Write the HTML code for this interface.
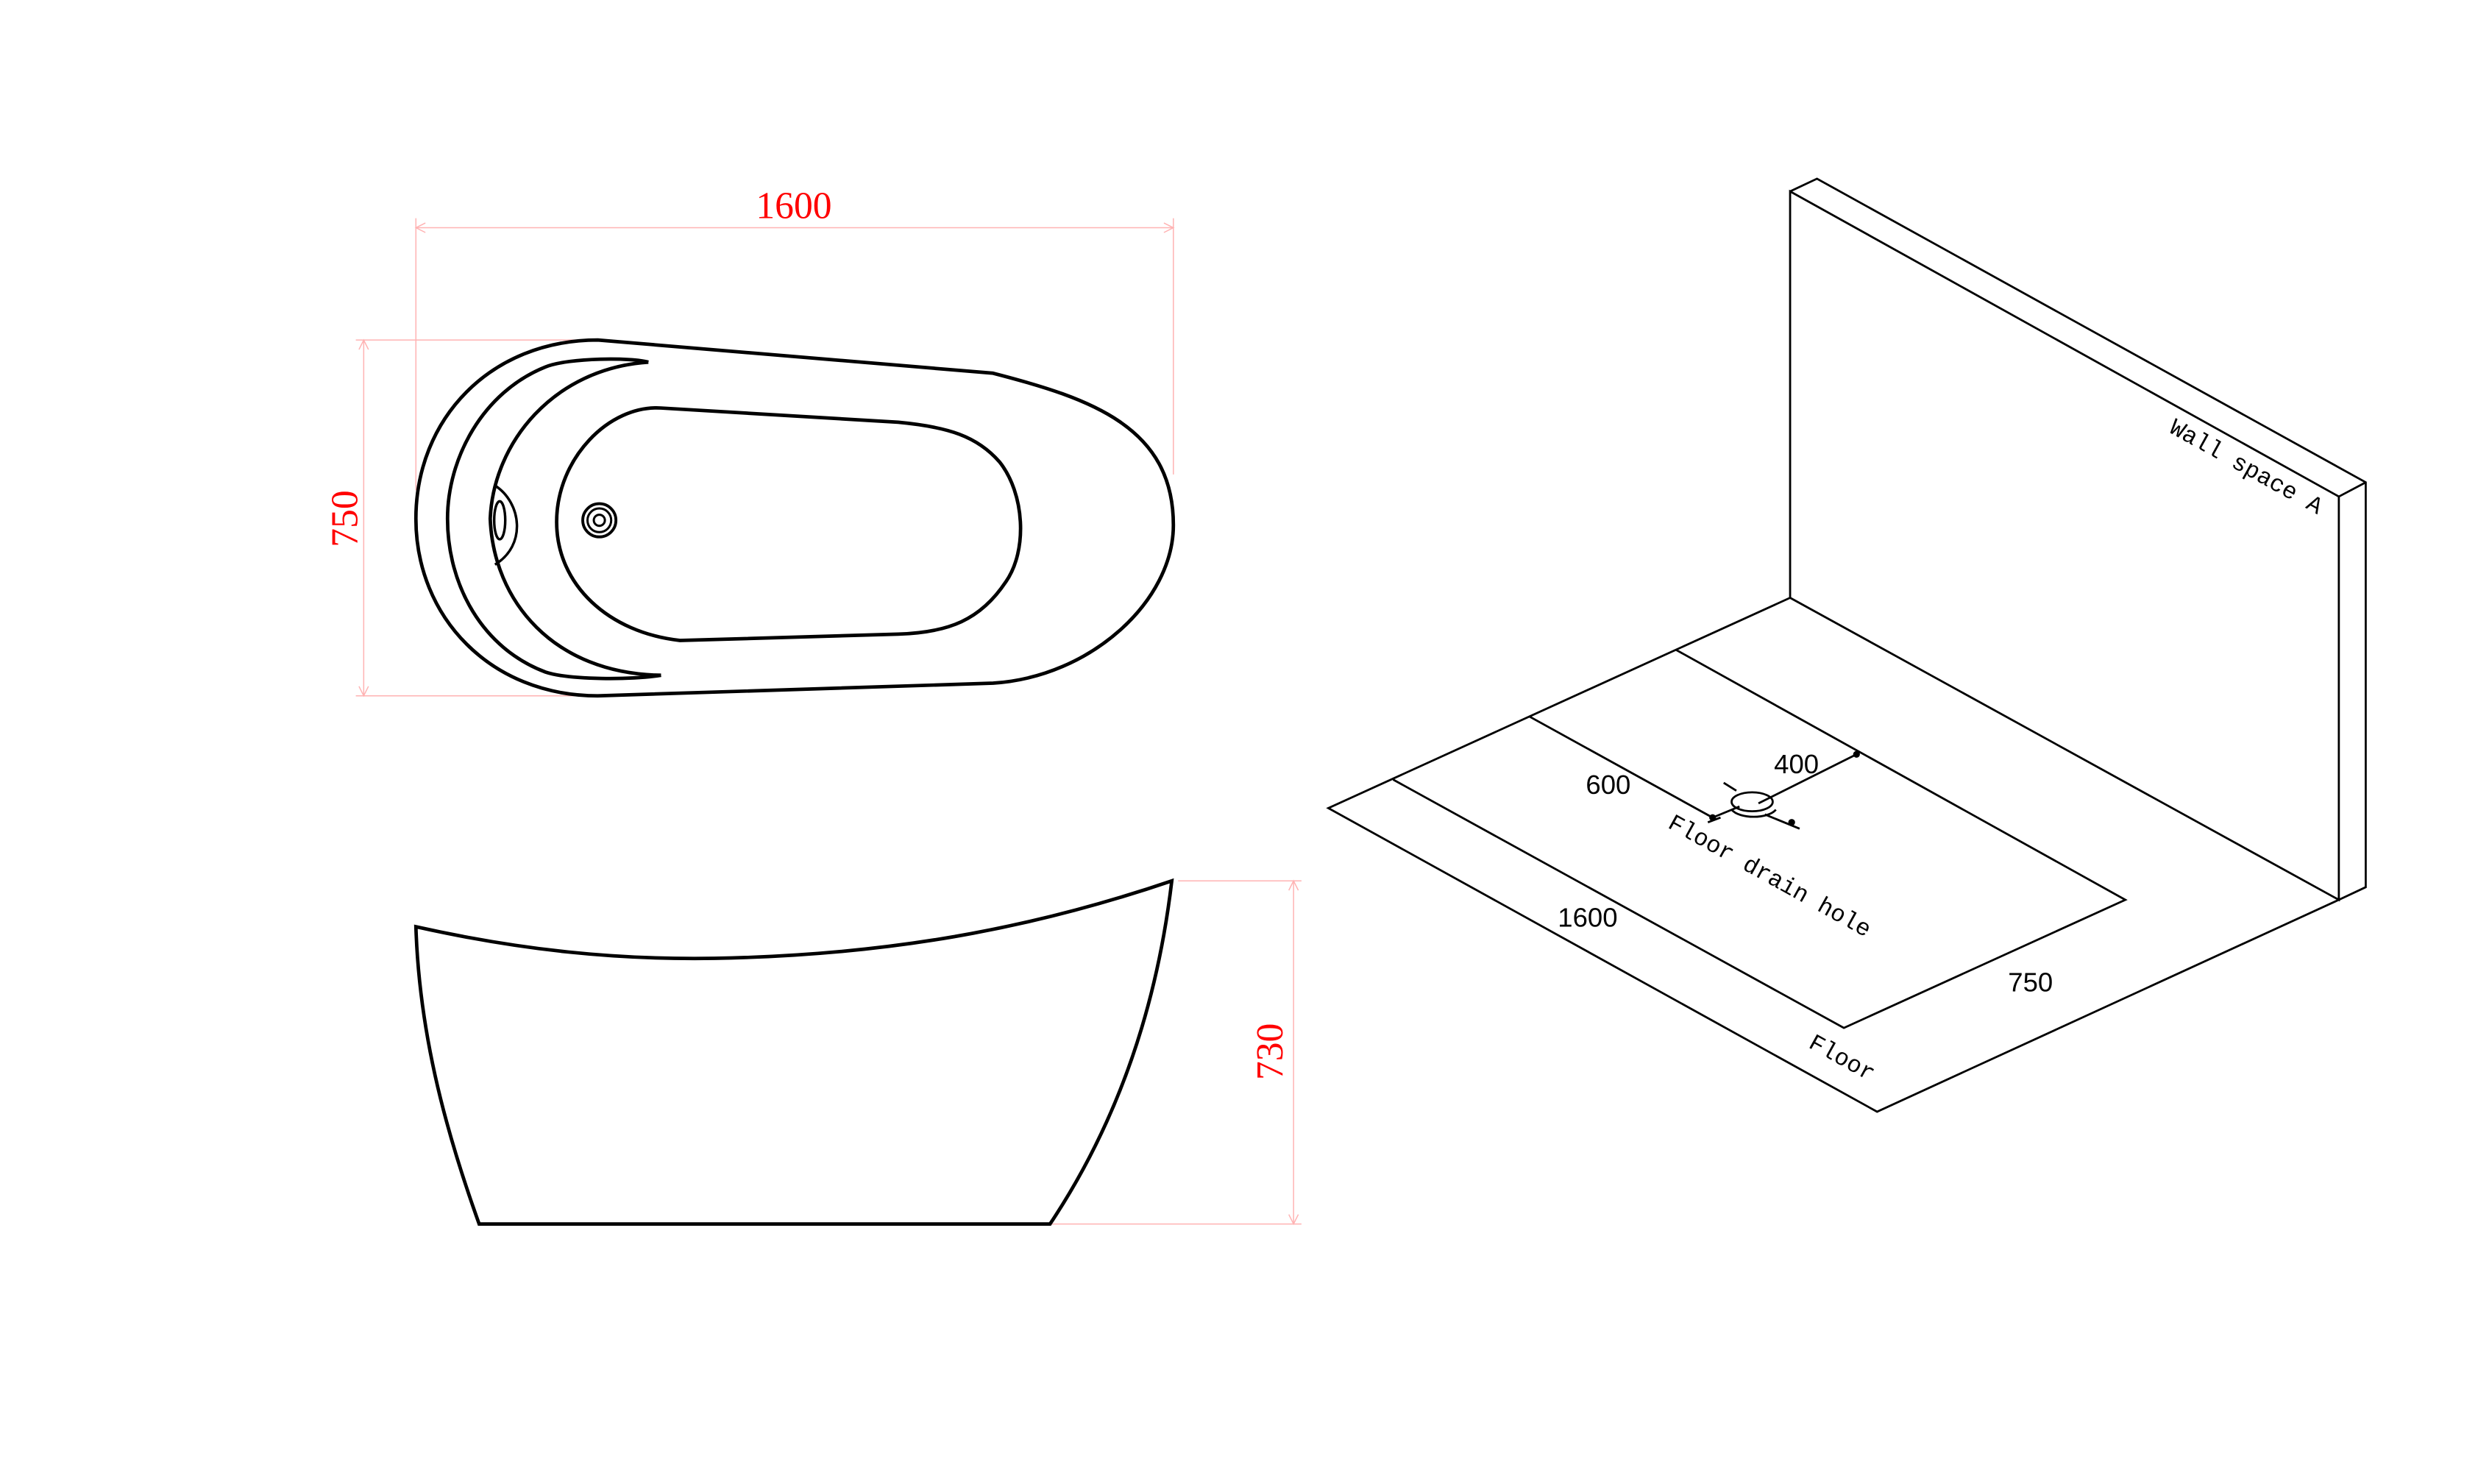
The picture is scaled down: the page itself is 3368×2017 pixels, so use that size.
<!DOCTYPE html>
<html><head><meta charset="utf-8"><style>
html,body{margin:0;padding:0;background:#fff;}
svg{display:block;}
</style></head><body>
<svg width="3368" height="2017" viewBox="0 0 1567 938.4" xmlns="http://www.w3.org/2000/svg">
<rect width="1567" height="940" fill="#fff"/>
<!-- pink dimension lines -->
<g stroke="#ffb3b3" stroke-width="0.7" fill="none">
<line x1="263" y1="144" x2="742" y2="144"/>
<line x1="263" y1="138" x2="263" y2="310"/>
<line x1="742" y1="138" x2="742" y2="300"/>
<line x1="230" y1="215" x2="230" y2="440"/>
<line x1="225" y1="215" x2="378" y2="215"/>
<line x1="225" y1="440" x2="378" y2="440"/>
<line x1="818" y1="557" x2="818" y2="774"/>
<line x1="745" y1="557" x2="823" y2="557"/>
<line x1="664" y1="774" x2="823" y2="774"/>
<path d="M269,141 L263,144 L269,147 M736,141 L742,144 L736,147 M227,221 L230,215 L233,221 M227,434 L230,440 L233,434 M815,563 L818,557 L821,563 M815,768 L818,774 L821,768"/>
</g>
<g fill="#f00" font-family="'Liberation Serif',serif" font-size="24">
<text x="502" y="138" text-anchor="middle">1600</text>
<text transform="translate(226,328) rotate(-90)" text-anchor="middle">750</text>
<text transform="translate(811,665) rotate(-90)" text-anchor="middle">730</text>
</g>
<!-- top view -->
<g stroke="#000" stroke-width="2.2" fill="none">
<path d="M378,215 L628,236 C690,252 742,270 742,332 C742,380 690,428 628,432 L378,440 C310,440 263,390 263,328 C263,265 310,215 378,215 Z"/>
<path d="M410,229 C400,226 360,226 345,232 C305,248 283,290 283,328 C283,370 305,410 345,425 C360,430 400,430 418,427"/>
<path d="M410,229 C350,233 312,280 310,328 C312,380 350,426 418,427"/>
<path d="M418,258 L568,267 C600,270 618,276 632,292 C648,312 650,348 636,368 C620,392 600,400 568,401 L430,405 C385,400 352,370 352,330 C352,290 385,256 418,258Z"/>
<path d="M313,307 C330,318 333,345 313,357" stroke-width="1.6"/>
<ellipse cx="316" cy="329" rx="3.5" ry="12" stroke-width="1.6"/>
<circle cx="379" cy="329" r="10.5" stroke-width="1.8"/>
<circle cx="379" cy="329" r="7.5" stroke-width="1.4"/>
<circle cx="379" cy="329" r="3.5" stroke-width="1.4"/>
</g>
<!-- side view -->
<path d="M263,586 C330,601 390,607 452,606 C560,604 650,588 741,557 C730,650 700,720 664,774 L303,774 C280,710 265,650 263,586 Z" stroke="#000" stroke-width="2.2" fill="none"/>
<!-- iso -->
<g stroke="#000" stroke-width="1.3" fill="none">
<path d="M1132,378 L1132,121 L1479,314 L1479,569 L1132,378"/>
<path d="M1132,121 L1149,113 L1496,305 L1496,561 L1479,569 M1479,314 L1496,305"/>
<path d="M1132,378 L840,511 L1187,703 L1479,569"/>
<path d="M881,493 L1166,650 L1344,569 L1060,411"/>
<path d="M967,453 L1083,517"/>
<ellipse cx="1108" cy="507" rx="13" ry="6"/>
<path d="M1095,512 C1100,518 1118,518 1123,512"/>
<path d="M1112,508 L1174,477 M1083,517 L1100,510 M1116,515 L1138,524 M1090,495 L1098,500 M1080,520 L1088,517"/>
<circle cx="1174" cy="477" r="1.5" fill="#000"/>
<circle cx="1083" cy="517" r="1.5" fill="#000"/>
<circle cx="1133" cy="520" r="1.5" fill="#000"/>
</g>
<g font-family="'Liberation Sans',sans-serif" font-size="17" fill="#000">
<text x="1136" y="489" text-anchor="middle">400</text>
<text x="1017" y="502" text-anchor="middle">600</text>
<text x="1004" y="586" text-anchor="middle">1600</text>
<text x="1284" y="627" text-anchor="middle">750</text>
</g>
<g font-family="'Liberation Mono',monospace" font-size="15" fill="#000">
<text transform="translate(1054,523) rotate(29)">Floor drain hole</text>
<text transform="translate(1143,662) rotate(29)">Floor</text>
<text transform="translate(1371,273) rotate(29)">Wall space A</text>
</g>
</svg>
</body></html>
